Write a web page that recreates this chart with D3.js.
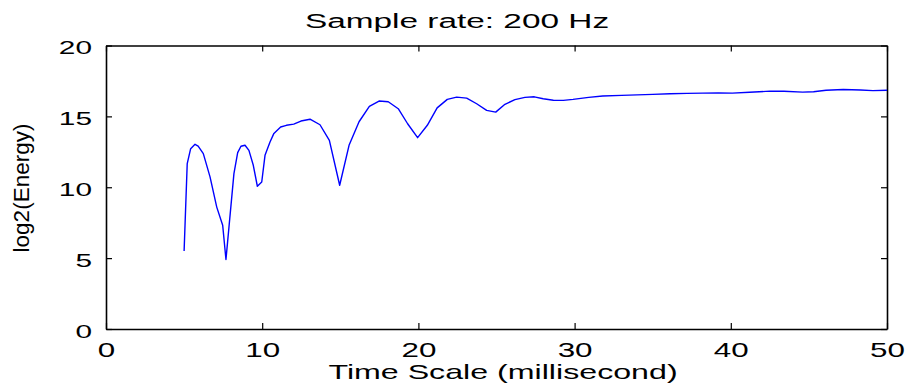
<!DOCTYPE html>
<html>
<head>
<meta charset="utf-8">
<script src="https://cdn.jsdelivr.net/npm/d3@7"></script>
<style>
  body { margin: 0; background: #fff; }
  svg { display: block; font-family: "Liberation Sans", Arial, sans-serif; }
</style>
</head>
<body>
<svg id="chart" width="907" height="389"></svg>
<script>
// log2 energy against time scale
const timeMs = [5, 5.2, 5.42, 5.7, 5.9, 6.23, 6.66, 7.09, 7.47, 7.68, 8.19, 8.43, 8.64, 8.9, 9.15,
  9.43, 9.69, 9.97, 10.18, 10.5, 10.75, 11.18, 11.55, 12.02, 12.48, 13.06, 13.7, 14.3, 14.96, 15.56,
  16.2, 16.86, 17.48, 18.07, 18.71, 19.31, 19.95, 20.57, 21.2, 21.85, 22.45, 23.09, 23.73, 24.37,
  24.95, 25.54, 26.18, 26.82, 27.42, 27.99, 28.64, 29.28, 29.9, 30.9, 31.8, 33, 34, 35, 36.1, 37.2,
  38.2, 39.2, 40.1, 41.2, 42.5, 43.4, 44.6, 45.3, 46.1, 47.2, 48.3, 49.1, 50];
const energyLog2 = [5.5, 11.67, 12.72, 13.03, 12.9, 12.37, 10.73, 8.6, 7.32, 4.9, 10.96, 12.44, 12.89,
  12.96, 12.6, 11.55, 10.07, 10.37, 12.25, 13.19, 13.8, 14.25, 14.37, 14.45, 14.67, 14.8, 14.41,
  13.31, 10.14, 12.96, 14.62, 15.7, 16.08, 16.03, 15.54, 14.48, 13.5, 14.37, 15.6, 16.2, 16.36,
  16.29, 15.89, 15.42, 15.3, 15.85, 16.18, 16.34, 16.38, 16.24, 16.14, 16.13, 16.2, 16.34, 16.44,
  16.48, 16.52, 16.55, 16.6, 16.62, 16.64, 16.66, 16.64, 16.7, 16.78, 16.77, 16.71, 16.74, 16.84,
  16.9, 16.86, 16.82, 16.84];
const xTicks = [0, 10, 20, 30, 40, 50];
const yTicks = [0, 5, 10, 15, 20];

const margin = { top: 45.5, right: 20, bottom: 60, left: 106 };
const width = 907, height = 389;
const chartWidth = width - margin.left - margin.right;
const chartHeight = height - margin.top - margin.bottom;
const stretch = 1.57; // the figure's text is widened horizontally

const svg = d3.select("#chart");
const g = svg.append("g").attr("transform", `translate(${margin.left},${margin.top})`);

const x = d3.scaleLinear().domain([0, 50]).range([0, chartWidth]);
const y = d3.scaleLinear().domain([0, 20]).range([chartHeight, 0]);

// ticks point inward on all four sides, matlab style
const bottomAxis = g.append("g")
  .attr("transform", `translate(0,${chartHeight})`)
  .call(d3.axisBottom(x).tickValues(xTicks).tickSizeInner(-6).tickSizeOuter(0));
bottomAxis.selectAll("text")
  .attr("y", 28.3).attr("dy", 0)
  .attr("transform", `scale(${stretch},1)`)
  .style("font-size", "20px");

const leftAxis = g.append("g")
  .call(d3.axisLeft(y).tickValues(yTicks).tickSizeInner(-6).tickSizeOuter(0));
leftAxis.selectAll("text")
  .attr("x", -14 / stretch).attr("dy", 0).attr("y", 8)
  .attr("transform", `scale(${stretch},1)`)
  .style("font-size", "19px");

g.append("g")
  .call(d3.axisTop(x).tickValues(xTicks).tickSizeInner(-6).tickSizeOuter(0).tickFormat(""));
g.append("g")
  .attr("transform", `translate(${chartWidth},0)`)
  .call(d3.axisRight(y).tickValues(yTicks).tickSizeInner(-6).tickSizeOuter(0).tickFormat(""));

g.selectAll(".domain").attr("stroke", "#000").attr("stroke-width", 1.6);
g.selectAll(".tick line").attr("stroke", "#000").attr("stroke-width", 1.2);
g.selectAll(".tick text").attr("fill", "#000").attr("font-family", "Liberation Sans, Arial, sans-serif");

const line = d3.line()
  .x((d, i) => x(timeMs[i]))
  .y(d => y(d));

g.append("path")
  .datum(energyLog2)
  .attr("d", line)
  .attr("fill", "none")
  .attr("stroke", "#0000ff")
  .attr("stroke-width", 1.4)
  .attr("stroke-linejoin", "round");

// title
svg.append("text")
  .attr("transform", `translate(457,28.3) scale(1.59,1)`)
  .attr("text-anchor", "middle")
  .style("font-size", "21px")
  .text("Sample rate: 200 Hz");

// axis labels
svg.append("text")
  .attr("transform", `translate(503,378.7) scale(${stretch},1)`)
  .attr("text-anchor", "middle")
  .style("font-size", "20.5px")
  .text("Time Scale (millisecond)");

svg.append("text")
  .attr("transform", "translate(28.6,188) rotate(-90)")
  .attr("text-anchor", "middle")
  .style("font-size", "22.5px")
  .text("log2(Energy)");
</script>
</body>
</html>
